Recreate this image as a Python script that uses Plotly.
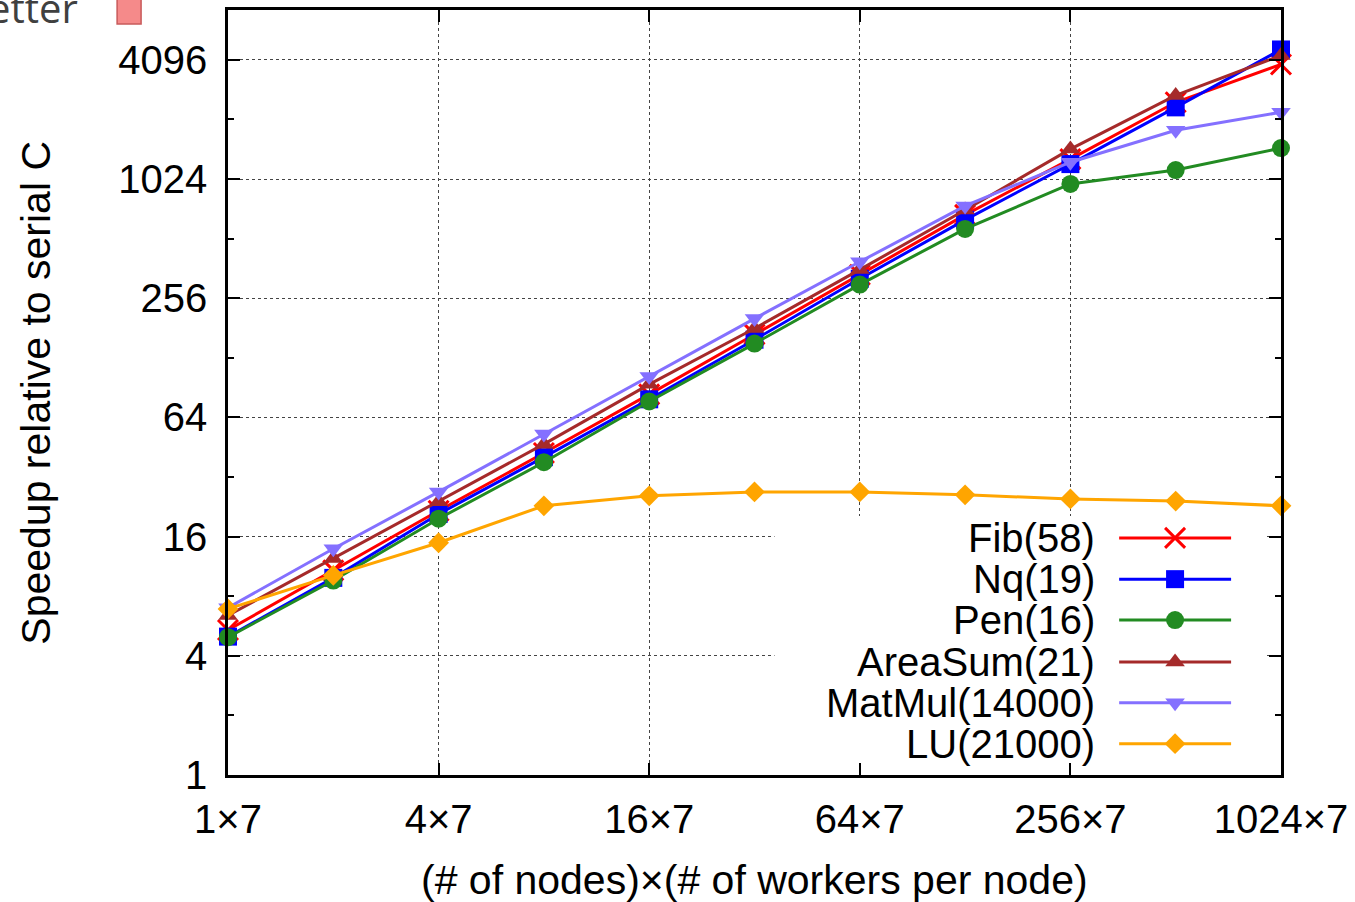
import plotly.graph_objects as go

# ---- data ----
nodes = [1, 2, 4, 8, 16, 32, 64, 128, 256, 512, 1024]
fib = [5.4, 10.8, 21.6, 42.3, 83.7, 168, 336, 675, 1290, 2500, 3880]
nq = [5.0, 9.9, 20.8, 40.3, 79, 158, 321, 637, 1218, 2356, 4620]
pen = [4.97, 9.6, 19.7, 38, 77, 151, 300, 573, 967, 1136, 1468]
areasum = [6.4, 12.4, 24, 46.9, 94, 180, 357, 714, 1450, 2706, 4310]
matmul = [7.0, 13.9, 26.9, 52.7, 103, 202, 391, 749, 1245, 1806, 2226]
lu = [6.9, 10.2, 14.9, 22.9, 25.7, 26.9, 26.9, 26.0, 24.8, 24.2, 22.9]

series_names = ["Fib(58)", "Nq(19)", "Pen(16)", "AreaSum(21)", "MatMul(14000)", "LU(21000)"]
series_values = [fib, nq, pen, areasum, matmul, lu]

x_tickvals = [1, 4, 16, 64, 256, 1024]
x_ticktext = ["1×7", "4×7", "16×7", "64×7", "256×7", "1024×7"]
y_tickvals = [1, 4, 16, 64, 256, 1024, 4096]
y_ticktext = ["1", "4", "16", "64", "256", "1024", "4096"]
y_minor = [2, 8, 32, 128, 512, 2048]

# ---- styles ----
colors = ["#FF0000", "#0000FF", "#228B22", "#A52A2A", "#8470FF", "#FFA500"]
symbols = ["x-thin", "square", "circle", "triangle-up", "triangle-down", "diamond"]
sizes = [20, 18, 18, 17, 17, 16]
FONT = "Liberation Sans, Arial, sans-serif"


def make_marker(s, sz, c):
    m = dict(symbol=s, size=sz, color=c)
    m["line"] = dict(width=3, color=c) if s == "x-thin" else dict(width=0)
    return m


fig = go.Figure()

for name, vals, c, s, sz in zip(series_names, series_values, colors, symbols, sizes):
    fig.add_trace(go.Scatter(
        x=nodes, y=vals, mode="lines+markers", name=name,
        line=dict(color=c, width=3), marker=make_marker(s, sz, c),
        cliponaxis=False, showlegend=False,
    ))

# ---- custom gnuplot-style key (opaque box, text left, sample right) ----
box_x = [(775 - 228) / 1054, (1268 - 228) / 1054]
box_y = [(775 - 763) / 768, (775 - 515) / 768]
fig.add_trace(go.Scatter(
    x=[box_x[0], box_x[1], box_x[1], box_x[0], box_x[0]],
    y=[box_y[0], box_y[0], box_y[1], box_y[1], box_y[0]],
    xaxis="x2", yaxis="y2", mode="lines", fill="toself",
    fillcolor="white", line=dict(width=0, color="white"),
    showlegend=False, hoverinfo="skip",
))

key_rows = [0.3099, 0.2560, 0.2025, 0.1478, 0.0944, 0.0410]
key_x0, key_x1, key_xm, key_text_x = 0.8463, 0.9526, 0.8994, 0.8255
for name, c, s, sz, ky in zip(series_names, colors, symbols, sizes, key_rows):
    fig.add_trace(go.Scatter(
        x=[key_x0, key_xm, key_x1], y=[ky, ky, ky], xaxis="x2", yaxis="y2",
        mode="lines", line=dict(color=c, width=3), showlegend=False,
        hoverinfo="skip", cliponaxis=False,
    ))
    fig.add_trace(go.Scatter(
        x=[key_xm], y=[ky], xaxis="x2", yaxis="y2",
        mode="markers", marker=make_marker(s, sz, c), showlegend=False,
        hoverinfo="skip", cliponaxis=False,
    ))
    fig.add_annotation(
        x=key_text_x, y=ky, xref="paper", yref="paper", text=name,
        showarrow=False, xanchor="right", yanchor="middle",
        font=dict(family=FONT, size=40, color="black"),
    )

axis_common = dict(
    showline=True, linecolor="black", linewidth=2.5, mirror="allticks",
    ticks="inside", ticklen=12, tickwidth=1.5, tickcolor="black",
    showgrid=True, gridcolor="#444444", gridwidth=1, griddash="dot",
    zeroline=False, tickfont=dict(family=FONT, size=40, color="black"),
)

fig.update_layout(
    width=1355, height=902,
    margin=dict(l=228, r=73, t=7, b=127),
    paper_bgcolor="white", plot_bgcolor="white",
    showlegend=False,
    xaxis=dict(type="log", range=[0, 3.0103], tickmode="array",
               tickvals=x_tickvals, ticktext=x_ticktext,
               ticklabelstandoff=7, **axis_common),
    yaxis=dict(type="log", range=[0, 3.8640], tickmode="array",
               tickvals=y_tickvals, ticktext=y_ticktext,
               ticklabelstandoff=10,
               minor=dict(tickmode="array", tickvals=y_minor, ticks="inside",
                          ticklen=6, tickwidth=1.5, tickcolor="black", showgrid=False),
               **axis_common),
    xaxis2=dict(overlaying="x", range=[0, 1], visible=False, fixedrange=True),
    yaxis2=dict(overlaying="y", range=[0, 1], visible=False, fixedrange=True),
)

# axis titles
fig.add_annotation(x=0.5, y=(775 - 880) / 768, xref="paper", yref="paper",
                   text="(# of nodes)×(# of workers per node)", showarrow=False,
                   xanchor="center", yanchor="middle",
                   font=dict(family=FONT, size=41, color="black"))
fig.add_annotation(x=(35 - 228) / 1054, y=0.5, xref="paper", yref="paper",
                   text="Speedup relative to serial C", showarrow=False, textangle=-90,
                   xanchor="center", yanchor="middle",
                   font=dict(family=FONT, size=41, color="black"))

# fragment of slide overlay at top-left ("better" arrow, cut off as in the reference)
fig.add_annotation(x=(80 - 228) / 1054, y=1 + (7 - 4) / 768, xref="paper", yref="paper",
                   text="etter", showarrow=False, xanchor="right", yanchor="middle",
                   font=dict(family="Open Sans, sans-serif", size=40, color="#404040"))
fig.add_shape(type="rect", xref="paper", yref="paper",
              x0=(117 - 228) / 1054, x1=(141 - 228) / 1054,
              y0=1 + (7 - 21) / 768, y1=1 + (7 + 5) / 768,
              fillcolor="#F58A8A", line=dict(color="#C85A5A", width=1.5), layer="above")

fig.write_html("out.html")
